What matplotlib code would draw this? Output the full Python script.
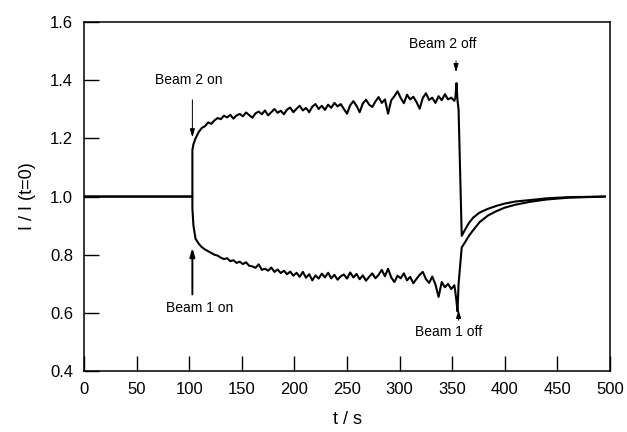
import matplotlib
matplotlib.use("Agg")
import matplotlib.pyplot as plt

plt.rcParams['font.family'] = ['Liberation Sans', 'DejaVu Sans']

# sample times in the noisy part (s)
t_noise = [106, 109, 112, 115, 118, 121, 124, 127, 130, 133, 136, 139, 142, 145,
           148, 151, 154, 157, 160, 163, 166, 169, 172, 175, 178, 181, 184, 187,
           190, 193, 196, 199, 202, 205, 208, 211, 214, 217, 220, 223, 226, 229,
           232, 235, 238, 241, 244, 247, 250, 253, 256, 259, 262, 265, 268, 271,
           274, 277, 280, 283, 286, 289, 292, 295, 298, 301, 304, 307, 310, 313,
           316, 319, 322, 325, 328, 331, 334, 337, 340, 343, 346, 349, 352]

beam2_noise = [1.200, 1.222, 1.236, 1.242, 1.255, 1.250, 1.262, 1.270, 1.266, 1.278,
               1.272, 1.281, 1.268, 1.279, 1.284, 1.276, 1.289, 1.280, 1.271, 1.286,
               1.292, 1.283, 1.296, 1.279, 1.290, 1.301, 1.288, 1.295, 1.283, 1.299,
               1.306, 1.290, 1.302, 1.312, 1.296, 1.305, 1.290, 1.309, 1.318, 1.301,
               1.312, 1.298, 1.316, 1.305, 1.322, 1.310, 1.318, 1.301, 1.285, 1.314,
               1.328, 1.312, 1.290, 1.320, 1.333, 1.316, 1.308, 1.327, 1.342, 1.322,
               1.334, 1.285, 1.331, 1.345, 1.362, 1.339, 1.321, 1.350, 1.334, 1.343,
               1.325, 1.302, 1.339, 1.355, 1.332, 1.340, 1.322, 1.345, 1.331, 1.352,
               1.334, 1.340, 1.329]

beam1_noise = [0.855, 0.838, 0.826, 0.818, 0.812, 0.806, 0.800, 0.797, 0.790, 0.785,
               0.788, 0.778, 0.781, 0.772, 0.776, 0.768, 0.774, 0.762, 0.760, 0.755,
               0.767, 0.748, 0.752, 0.745, 0.756, 0.741, 0.749, 0.737, 0.745, 0.733,
               0.742, 0.728, 0.738, 0.724, 0.741, 0.721, 0.733, 0.712, 0.729, 0.718,
               0.735, 0.722, 0.738, 0.719, 0.731, 0.714, 0.726, 0.732, 0.718, 0.739,
               0.722, 0.734, 0.716, 0.729, 0.711, 0.724, 0.736, 0.719, 0.731, 0.748,
               0.726, 0.752, 0.722, 0.706, 0.728, 0.719, 0.736, 0.712, 0.724, 0.702,
               0.717, 0.731, 0.741, 0.716, 0.703, 0.725, 0.698, 0.655, 0.706, 0.688,
               0.700, 0.682, 0.695]

# baseline, switch-on and switch-off / recovery parts
t_before = [0, 103, 103, 104]
beam2_before = [1.0, 1.0, 1.16, 1.18]
beam1_before = [1.0, 1.0, 0.96, 0.90]

t_off = [353, 354, 355, 356, 359, 362, 366, 370, 376, 384, 392, 400, 410, 424,
         440, 460, 495]
beam2_off = [1.340, 1.390, 1.330, 1.300, 0.865, 0.885, 0.910, 0.928, 0.945, 0.958,
             0.968, 0.976, 0.983, 0.988, 0.994, 0.998, 1.000]
beam1_off = [0.670, 0.640, 0.605, 0.700, 0.825, 0.842, 0.866, 0.885, 0.912, 0.935,
             0.950, 0.962, 0.972, 0.982, 0.990, 0.996, 1.000]

t_all = t_before + t_noise + t_off
beam2 = beam2_before + beam2_noise + beam2_off
beam1 = beam1_before + beam1_noise + beam1_off

fig = plt.figure(figsize=(6.27, 4.32), dpi=100)
ax = fig.add_axes([0.134, 0.141, 0.839, 0.808])

ax.plot(t_all, beam2, color='black', lw=1.5)
ax.plot(t_all, beam1, color='black', lw=1.5)

ax.set_xlim(0, 500)
ax.set_ylim(0.4, 1.6)
ax.set_xticks([0, 50, 100, 150, 200, 250, 300, 350, 400, 450, 500])
ax.set_yticks([0.4, 0.6, 0.8, 1.0, 1.2, 1.4, 1.6])
ax.set_yticklabels(['0.4', '0.6', '0.8', '1.0', '1.2', '1.4', '1.6'])
ax.tick_params(direction='in', length=11, width=1, labelsize=12, pad=8,
               top=False, right=False)
for s in ax.spines.values():
    s.set_linewidth(1.1)

ax.set_xlabel('t / s', fontsize=13, labelpad=10)
ax.set_ylabel('I / I (t=0)', fontsize=13, labelpad=10)

arrow_thin = dict(arrowstyle='-|>,head_length=0.5,head_width=0.15', color='black', lw=0.7)
arrow_thick = dict(arrowstyle='-|>,head_length=0.5,head_width=0.15', color='black', lw=1.4)

ax.text(100, 1.40, 'Beam 2 on', fontsize=10, ha='center', va='center')
ax.annotate('', xy=(103, 1.194), xytext=(103, 1.342), arrowprops=arrow_thin)

ax.text(110, 0.616, 'Beam 1 on', fontsize=10, ha='center', va='center')
ax.annotate('', xy=(103, 0.833), xytext=(103, 0.654), arrowprops=arrow_thick)

ax.text(341, 1.524, 'Beam 2 off', fontsize=10, ha='center', va='center')
ax.annotate('', xy=(353.6, 1.418), xytext=(353.6, 1.476), arrowprops=arrow_thin)

ax.text(347, 0.535, 'Beam 1 off', fontsize=10, ha='center', va='center')
ax.annotate('', xy=(356, 0.62), xytext=(356, 0.565), arrowprops=arrow_thin)

fig.savefig('out.png', dpi=100)
